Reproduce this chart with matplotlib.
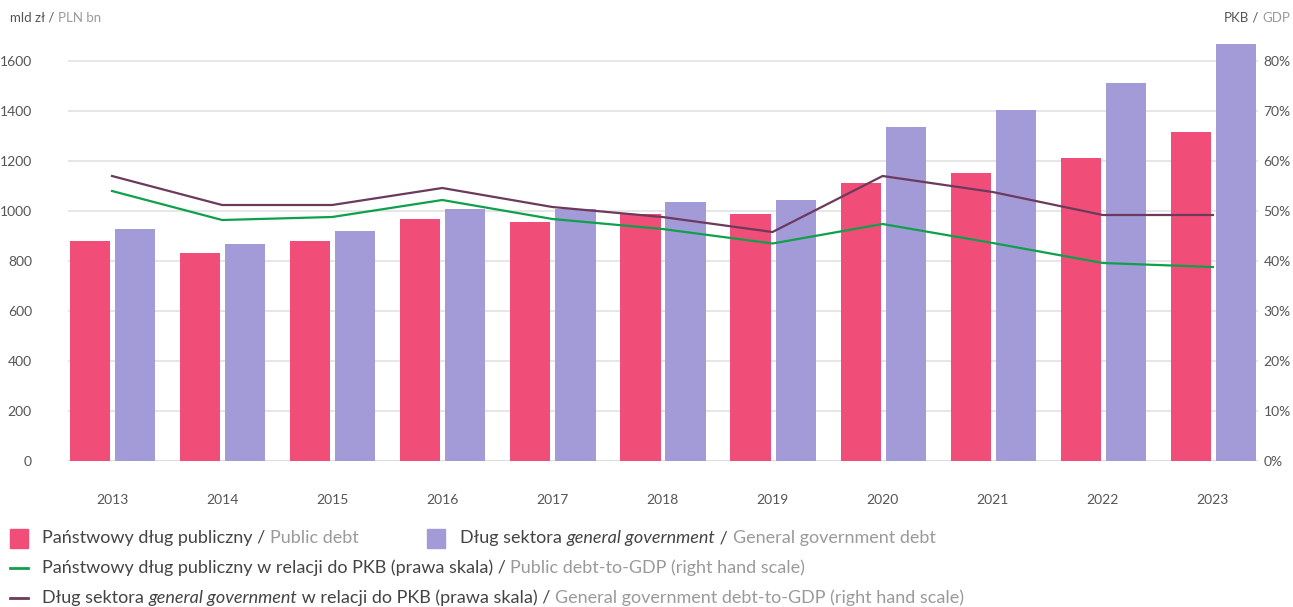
import matplotlib
matplotlib.use("Agg")
import matplotlib.pyplot as plt
import numpy as np

plt.rcParams['font.family'] = ['Lato', 'DejaVu Sans']

# Data (mld zl and % of GDP)
years = ['2013', '2014', '2015', '2016', '2017', '2018', '2019', '2020', '2021', '2022', '2023']
public_debt = [880, 832, 880, 968, 956, 988, 988, 1112, 1152, 1212, 1316]
gg_debt = [928, 868, 920, 1008, 1008, 1036, 1044, 1336, 1404, 1512, 1668]
public_debt_gdp = [54.0, 48.2, 48.8, 52.2, 48.4, 46.4, 43.5, 47.4, 43.6, 39.6, 38.8]
gg_debt_gdp = [57.0, 51.2, 51.2, 54.6, 50.8, 48.8, 45.8, 57.0, 53.8, 49.2, 49.2]
left_ticks = [0, 200, 400, 600, 800, 1000, 1200, 1400, 1600]
right_ticks = [0, 10, 20, 30, 40, 50, 60, 70, 80]

RED = '#F04E78'
PURPLE = '#A29BD8'
GREEN = '#0FA04C'
PLUM = '#6B3A5C'
DARK = '#444444'
GREY = '#9a9a9a'
TICK = '#555555'

W, H = 1293, 607
fig = plt.figure(figsize=(W / 100, H / 100), dpi=100)
ax = fig.add_axes([68 / W, (H - 461) / H, (1258 - 68) / W, (461 - 40) / H])

x = np.arange(len(years))
bw = 0.365
ax.bar(x - 0.2, public_debt, width=bw, color=RED, zorder=2)
ax.bar(x + 0.21, gg_debt, width=bw, color=PURPLE, zorder=2)

ax.set_xlim(-0.4, len(years) - 1 + 0.41)
ax.set_ylim(0, 1684)
ax.set_yticks(left_ticks)
ax.set_xticks(x)
ax.set_xticklabels(years)
ax.grid(axis='y', color='#e2e2e2', linewidth=1.2, zorder=0)
ax.set_axisbelow(True)
for s in ax.spines.values():
    s.set_visible(False)
ax.axhline(0, color='#dddddd', linewidth=1.5, zorder=1)
ax.tick_params(axis='y', length=0, pad=26, labelsize=10, labelcolor=TICK)
ax.tick_params(axis='x', length=0, pad=24, labelsize=10, labelcolor=TICK)

# right-hand scale for the debt-to-GDP lines
ax2 = ax.twinx()
ax2.set_ylim(0, 84.2)
ax2.set_yticks(right_ticks)
ax2.set_yticklabels([f'{t}%' for t in right_ticks])
for s in ax2.spines.values():
    s.set_visible(False)
ax2.tick_params(axis='y', length=0, pad=4, labelsize=10, labelcolor=TICK)
ax2.plot(x, public_debt_gdp, color=GREEN, linewidth=1.6, zorder=3)
ax2.plot(x, gg_debt_gdp, color=PLUM, linewidth=1.6, zorder=3)


def rich_text(px, py, parts, size=13, ha='left'):
    """Draw consecutive text pieces with their own colour/style."""
    renderer = fig.canvas.get_renderer()
    texts = []
    cur = px
    for s, color, style in parts:
        t = fig.text(cur / W, 1 - py / H, s, color=color, fontstyle=style,
                     fontsize=size, va='center', ha='left')
        bb = t.get_window_extent(renderer=renderer)
        cur += bb.width
        texts.append(t)
    if ha == 'right':
        shift = cur - px
        for t in texts:
            tx, ty = t.get_position()
            t.set_position((tx - shift / W, ty))
    return texts


# axis headers
rich_text(10, 18, [('mld zł', TICK, 'normal'), (' / ', TICK, 'normal'), ('PLN bn', GREY, 'normal')], size=9.5)
rich_text(1290, 18, [('PKB', TICK, 'normal'), (' / ', TICK, 'normal'), ('GDP', GREY, 'normal')], size=9.5, ha='right')

# legend
fig.patches.append(plt.Rectangle((10 / W, 1 - 548 / H), 18 / W, 19 / H, color=RED, transform=fig.transFigure))
rich_text(42, 538, [('Państwowy dług publiczny / ', DARK, 'normal'), ('Public debt', GREY, 'normal')])
fig.patches.append(plt.Rectangle((427 / W, 1 - 548 / H), 18 / W, 19 / H, color=PURPLE, transform=fig.transFigure))
rich_text(460, 538, [('Dług sektora ', DARK, 'normal'), ('general government', DARK, 'italic'),
                     (' / ', DARK, 'normal'), ('General government debt', GREY, 'normal')])

fig.lines.append(plt.Line2D([10 / W, 28 / W], [1 - 568 / H] * 2, color=GREEN, linewidth=2, transform=fig.transFigure))
rich_text(42, 568, [('Państwowy dług publiczny w relacji do PKB (prawa skala) / ', DARK, 'normal'),
                    ('Public debt-to-GDP (right hand scale)', GREY, 'normal')])
fig.lines.append(plt.Line2D([10 / W, 28 / W], [1 - 598 / H] * 2, color=PLUM, linewidth=2, transform=fig.transFigure))
rich_text(42, 598, [('Dług sektora ', DARK, 'normal'), ('general government', DARK, 'italic'),
                    (' w relacji do PKB (prawa skala) / ', DARK, 'normal'),
                    ('General government debt-to-GDP (right hand scale)', GREY, 'normal')])

fig.savefig('out.png', dpi=100)
